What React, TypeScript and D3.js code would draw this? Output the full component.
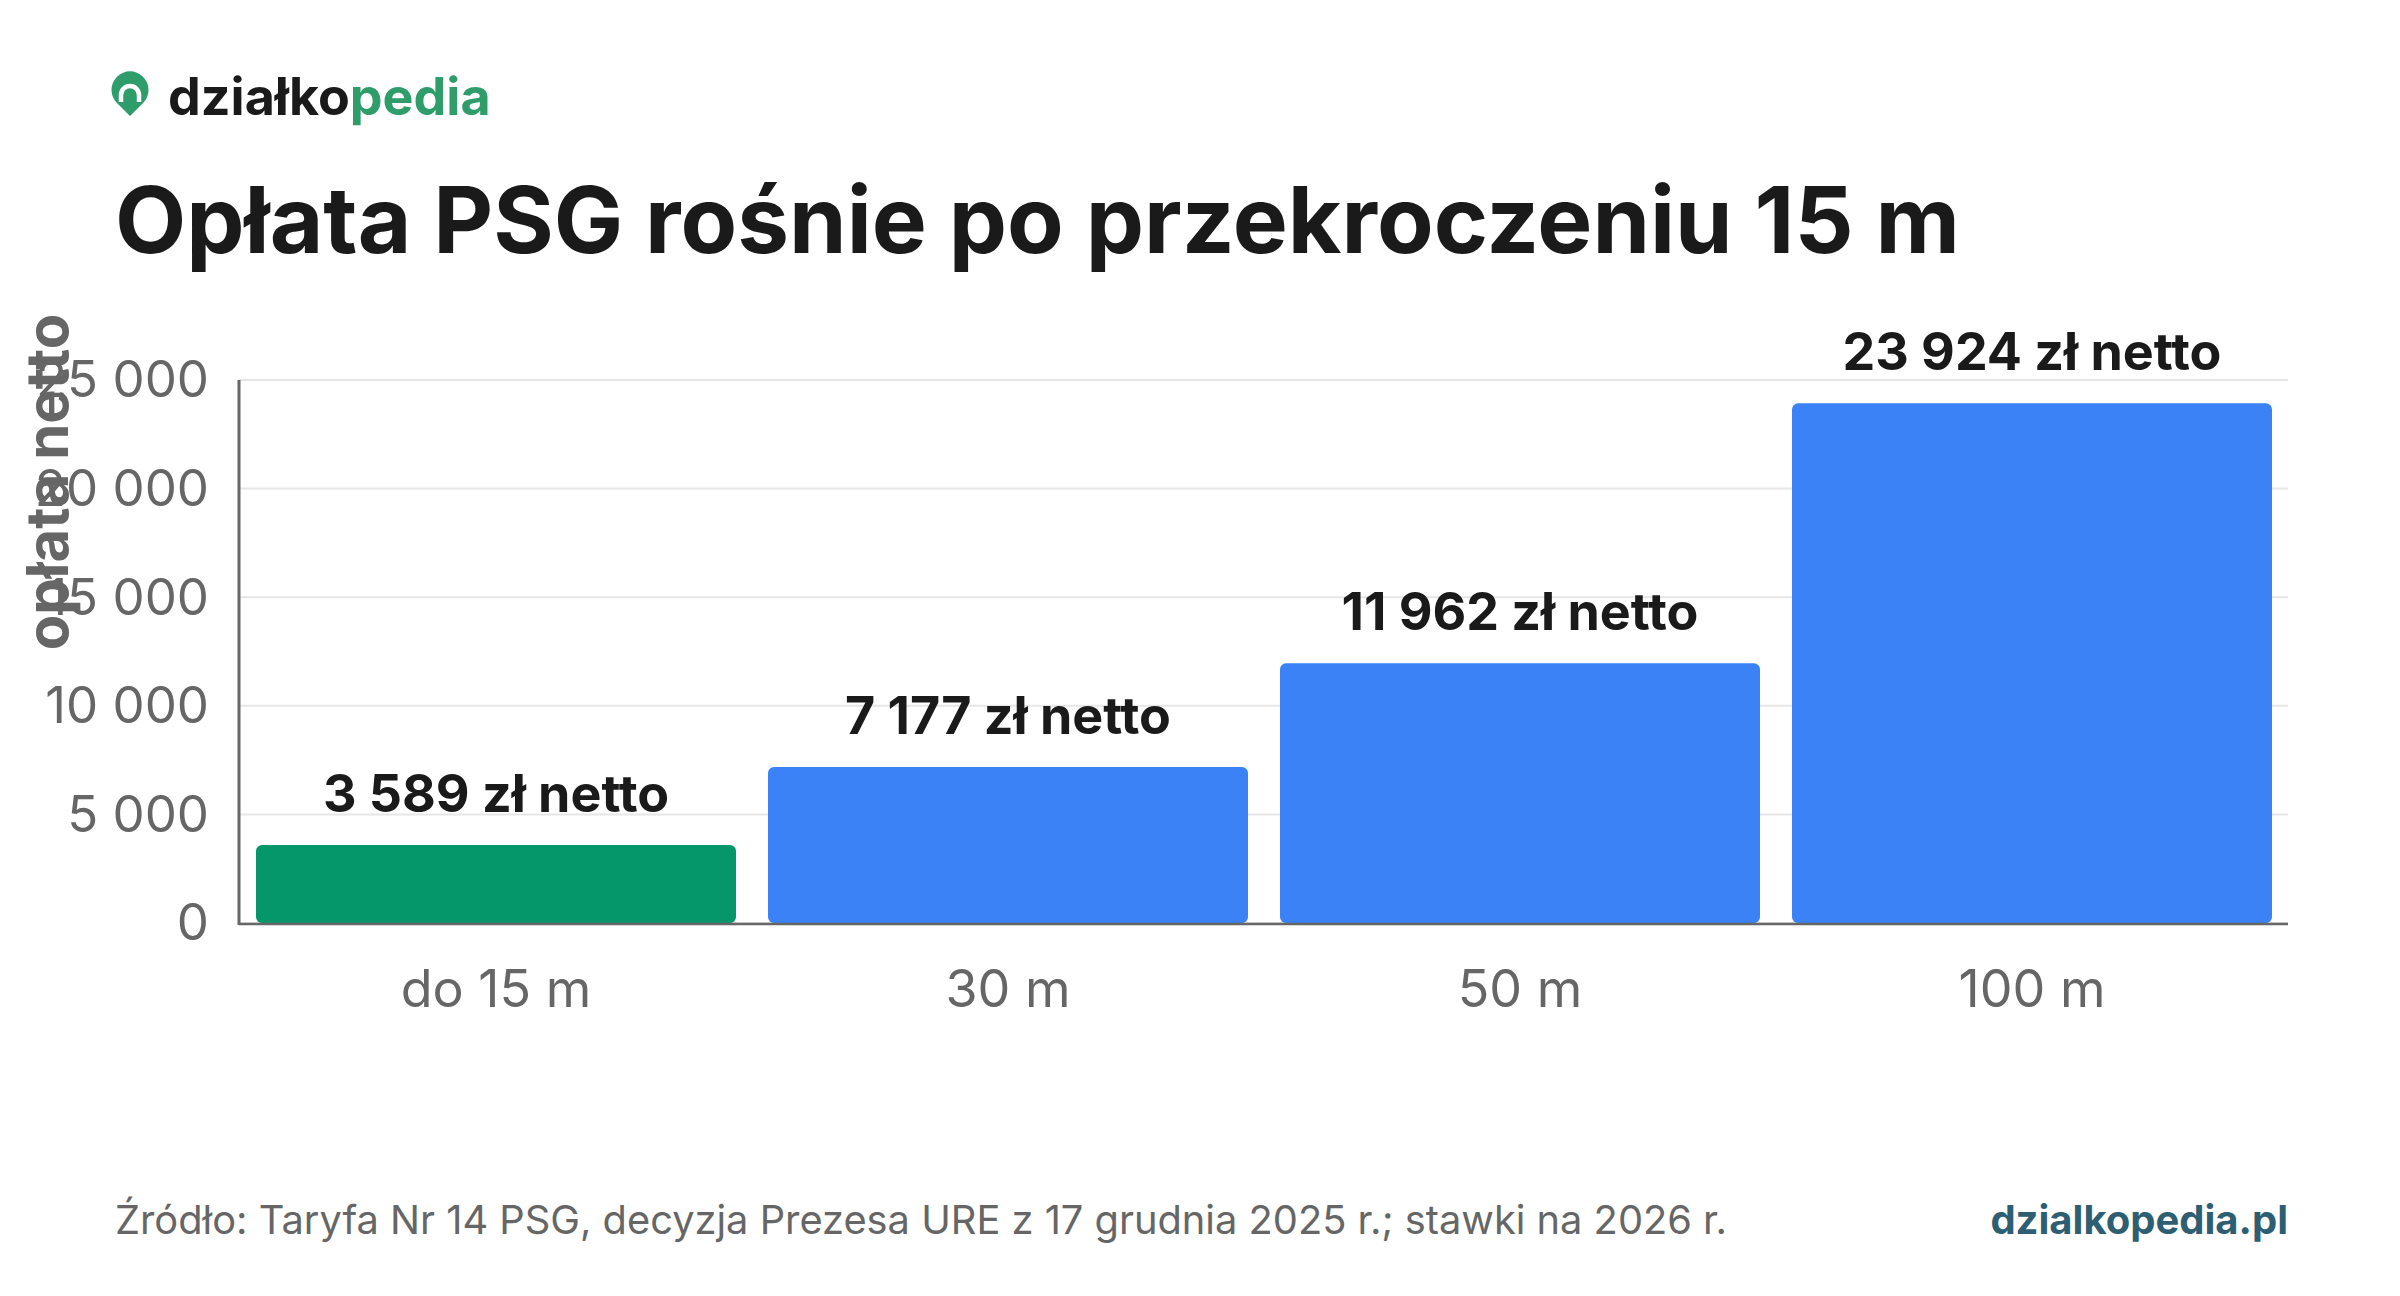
import React from "react";
import * as d3 from "d3";

const categories = ["do 15 m", "30 m", "50 m", "100 m"];
const values = [3589, 7177, 11962, 23924];
const barColors = ["#059669", "#3b82f6", "#3b82f6", "#3b82f6"];
const yTicks = [0, 5000, 10000, 15000, 20000, 25000];

const W = 2400;
const H = 1296;
const margin = { top: 380, right: 112, bottom: 373, left: 240 };
const FONT = "Inter, 'Noto Sans', sans-serif";

const pl = d3.formatLocale({
  decimal: ",",
  thousands: " ",
  grouping: [3],
  currency: ["", " zł"],
});
const fmt = pl.format(",d");

const App = () => {
  const x = d3
    .scaleBand()
    .domain(categories)
    .range([margin.left, W - margin.right])
    .paddingInner(0.0625)
    .paddingOuter(0.03125);

  const y = d3
    .scaleLinear()
    .domain([0, 25000])
    .range([H - margin.bottom, margin.top]);

  const x0 = margin.left - 1;
  const x1 = W - margin.right;

  return (
    <svg
      width={W}
      height={H}
      style={{ position: "absolute", left: 0, top: 0, background: "#fff" }}
      fontFamily={FONT}
    >
      {/* logo */}
      <g>
        <path d="M130,116 L116.5,102.5 A18.5,18.5 0 1 1 143.5,102.5 Z" fill="#2e9d6a" />
        <path d="M121,102 L121,95 A9,9 0 0 1 139,95 L139,102" fill="none" stroke="#fff" strokeWidth={4.5} />
        <text x={168} y={115} fontSize={52} fontWeight={700}>
          <tspan fill="#1a1a1a">działko</tspan>
          <tspan fill="#2e9d6a">pedia</tspan>
        </text>
      </g>

      <text x={115} y={253} fontSize={92.5} fontWeight={700} fill="#1a1a1a">
        Opłata PSG rośnie po przekroczeniu 15 m
      </text>

      {/* grid */}
      {yTicks.map((t) => (
        <line key={"g" + t} x1={x0} x2={x1} y1={y(t)} y2={y(t)} stroke="#e6e6e6" strokeWidth={2} />
      ))}

      {/* bars */}
      {values.map((v, i) => (
        <rect
          key={categories[i]}
          x={x(categories[i])}
          y={y(v)}
          width={x.bandwidth()}
          height={y(0) - y(v)}
          rx={6}
          fill={barColors[i]}
        />
      ))}

      {/* value labels */}
      {values.map((v, i) => (
        <text
          key={"v" + i}
          x={(x(categories[i]) as number) + x.bandwidth() / 2}
          y={y(v) - 33}
          textAnchor="middle"
          fontSize={52}
          fontWeight={700}
          fill="#1a1a1a"
        >
          {fmt(v) + " zł netto"}
        </text>
      ))}

      {/* axes */}
      <line x1={x0} x2={x0} y1={y(25000)} y2={y(0) + 2} stroke="#666" strokeWidth={3} />
      <line x1={x0} x2={x1} y1={y(0) + 1} y2={y(0) + 1} stroke="#666" strokeWidth={2.5} />

      {yTicks.map((t) => (
        <text
          key={"t" + t}
          x={209}
          y={y(t)}
          dy="0.34em"
          textAnchor="end"
          fontSize={51}
          fill="#666"
        >
          {fmt(t)}
        </text>
      ))}

      {categories.map((c) => (
        <text
          key={"c" + c}
          x={(x(c) as number) + x.bandwidth() / 2}
          y={1007}
          textAnchor="middle"
          fontSize={52}
          fill="#666"
        >
          {c}
        </text>
      ))}

      <text
        transform="translate(68, 482) rotate(-90)"
        textAnchor="middle"
        fontSize={58}
        fontWeight={700}
        fill="#666"
      >
        opłata netto
      </text>

      {/* footer */}
      <text x={115} y={1234} fontSize={39.8} fill="#666">
        Źródło: Taryfa Nr 14 PSG, decyzja Prezesa URE z 17 grudnia 2025 r.; stawki na 2026 r.
      </text>
      <text x={x1} y={1234} textAnchor="end" fontSize={40} fontWeight={700} fill="#2e5e72">
        dzialkopedia.pl
      </text>
    </svg>
  );
};

export default App;
